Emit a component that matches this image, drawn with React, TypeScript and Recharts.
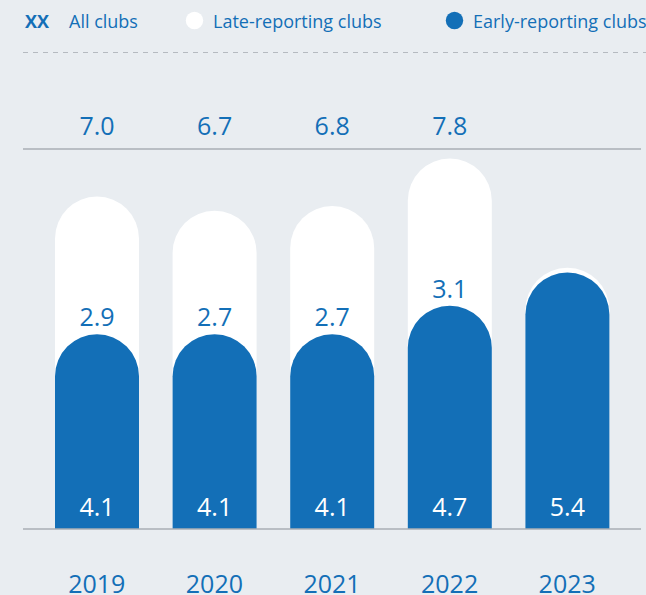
import { Bar, BarChart, LabelList, ReferenceLine, XAxis, YAxis } from "recharts";

const years = ["2019", "2020", "2021", "2022", "2023"];
const earlyClubs = [4.1, 4.1, 4.1, 4.7, 5.4];
const allClubs = [7.0, 6.7, 6.8, 7.8, 5.5];
const lateLabels = ["2.9", "2.7", "2.7", "3.1", ""];
const allLabels = ["7.0", "6.7", "6.8", "7.8", ""];

const BLUE = "#136fb7";
const BG = "#e9edf1";
const GRAY = "#a9aeb4";
const FONT = "'Open Sans', 'Noto Sans', sans-serif";

const data = years.map((year, i) => ({
  year,
  early: earlyClubs[i],
  all: allClubs[i],
  lateLabel: lateLabels[i],
  allLabel: allLabels[i],
}));

const YearTick = ({ x, y, payload }: any) => (
  <text x={x} y={Number(y) + 54} textAnchor="middle" dominantBaseline="central" fill={BLUE} fontSize={25} fontFamily={FONT}>
    {payload.value}
  </text>
);

export default function App() {
  return (
    <div style={{ position: "absolute", left: 0, top: 0, width: 646, height: 595, background: BG, overflow: "hidden", fontFamily: FONT }}>
      <svg width={646} height={60} style={{ position: "absolute", left: 0, top: 0 }}>
        <text x={25} y={20.5} fill={BLUE} fontSize={18} fontWeight={700} dominantBaseline="central">XX</text>
        <text x={69} y={20.5} fill={BLUE} fontSize={18} dominantBaseline="central">All clubs</text>
        <circle cx={194.5} cy={20.5} r={8.7} fill="#fff" />
        <text x={213} y={20.5} fill={BLUE} fontSize={18} dominantBaseline="central">Late-reporting clubs</text>
        <circle cx={454.5} cy={20.5} r={8.7} fill={BLUE} />
        <text x={473} y={20.5} fill={BLUE} fontSize={18} dominantBaseline="central">Early-reporting clubs</text>
        <line x1={23} x2={646} y1={52.5} y2={52.5} stroke="#b5bac0" strokeDasharray="5 5" />
      </svg>
      <div style={{ position: "absolute", left: 0, top: 0 }}>
        <BarChart width={646} height={595} data={data} margin={{ top: 149, right: 5, left: 23, bottom: 0 }}>
          <XAxis xAxisId="back" dataKey="year" hide height={0} padding={{ left: 15, right: 15 }} />
          <XAxis
            xAxisId="front"
            dataKey="year"
            axisLine={{ stroke: GRAY, strokeWidth: 1.5 }}
            tickLine={false}
            tickSize={0}
            tickMargin={0}
            height={66}
            interval={0}
            padding={{ left: 15, right: 15 }}
            tick={<YearTick />}
          />
          <YAxis hide domain={[0, 8]} />
          <ReferenceLine xAxisId="front" y={8} stroke={GRAY} strokeWidth={1.5} />
          <Bar xAxisId="back" dataKey="all" fill="#ffffff" barSize={84} radius={[42, 42, 0, 0]} isAnimationActive={false}>
            <LabelList
              dataKey="allLabel"
              content={(p: any) => (
                <text x={Number(p.x) + Number(p.width) / 2} y={125} textAnchor="middle" dominantBaseline="central" fill={BLUE} fontSize={25} fontFamily={FONT}>
                  {p.value}
                </text>
              )}
            />
          </Bar>
          <Bar xAxisId="front" dataKey="early" fill={BLUE} barSize={84} radius={[42, 42, 0, 0]} isAnimationActive={false}>
            <LabelList
              dataKey="lateLabel"
              content={(p: any) => (
                <text x={Number(p.x) + Number(p.width) / 2} y={Number(p.y) - 18} textAnchor="middle" dominantBaseline="central" fill={BLUE} fontSize={25} fontFamily={FONT}>
                  {p.value}
                </text>
              )}
            />
            <LabelList
              dataKey="early"
              content={(p: any) => (
                <text x={Number(p.x) + Number(p.width) / 2} y={Number(p.y) + Number(p.height) - 23} textAnchor="middle" dominantBaseline="central" fill="#ffffff" fontSize={25} fontFamily={FONT}>
                  {Number(p.value).toFixed(1)}
                </text>
              )}
            />
          </Bar>
        </BarChart>
      </div>
    </div>
  );
}
